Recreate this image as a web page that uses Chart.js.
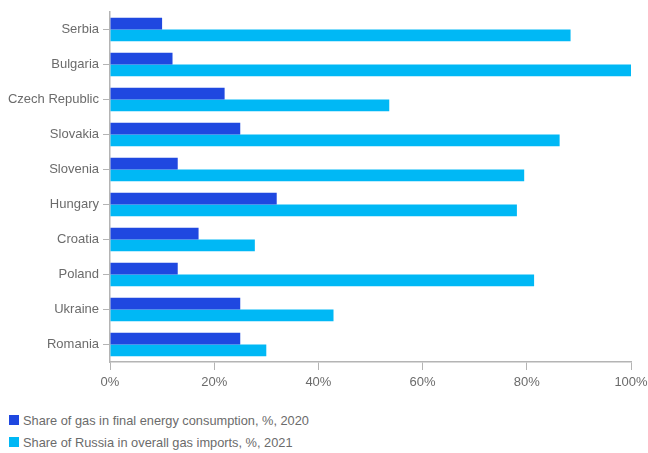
<!DOCTYPE html>
<html>
<head>
<meta charset="utf-8">
<script src="https://cdn.jsdelivr.net/npm/chart.js@4"></script>
<style>
  html, body { margin: 0; padding: 0; background: #fff; }
  #wrap { width: 648px; height: 400px; position: relative; }
  #legend { position: absolute; left: 9px; top: 409px; font-family: 'Liberation Sans', Arial, sans-serif; font-size: 12.8px; color: #6b6b6b; }
  .item { display: flex; align-items: center; height: 22px; }
  .box { width: 10px; height: 10px; margin-right: 4px; }
</style>
</head>
<body>
<div id="wrap"><canvas id="gasChart"></canvas></div>
<div id="legend"></div>
<script>
const countries = ["Serbia", "Bulgaria", "Czech Republic", "Slovakia", "Slovenia", "Hungary", "Croatia", "Poland", "Ukraine", "Romania"];
const gasShare2020 = [10, 12, 22, 25, 13, 32, 17, 13, 25, 25];
const russiaShare2021 = [88.4, 100, 53.6, 86.3, 79.5, 78.1, 27.8, 81.4, 42.9, 30];
const xTicks = [0, 20, 40, 60, 80, 100];

const axisGrey = "#b4b4b4";
const textGrey = "#6b6b6b";

Chart.defaults.font.family = "'Liberation Sans', Arial, sans-serif";
Chart.defaults.color = textGrey;

const gasChart = new Chart(
  document.getElementById("gasChart"),
  {
    type: "bar",
    data: {
      labels: countries,
      datasets: [{
        label: "Share of gas in final energy consumption, %, 2020",
        data: gasShare2020,
        backgroundColor: "#1f48e0"
      }, {
        label: "Share of Russia in overall gas imports, %, 2021",
        data: russiaShare2021,
        backgroundColor: "#00b8f5"
      }]
    },
    options: {
      indexAxis: "y",
      responsive: true,
      maintainAspectRatio: false,
      animation: false,
      layout: { padding: { top: 12, right: 17, left: 4, bottom: 3 } },
      datasets: { bar: { barPercentage: 1, categoryPercentage: 0.665 } },
      scales: {
        x: {
          min: 0,
          max: 100,
          afterBuildTicks: (scale) => { scale.ticks = xTicks.map(v => ({ value: v })); },
          ticks: { callback: (v) => v + "%", font: { size: 13 }, padding: 5 },
          grid: { drawOnChartArea: false, color: axisGrey, tickLength: 8 },
          border: { color: axisGrey, width: 1.5 },
          afterFit: (scale) => { scale.height = 35; scale.paddingRight = 0; }
        },
        y: {
          ticks: { font: { size: 13 }, padding: 4 },
          grid: { drawOnChartArea: false, offset: false, color: axisGrey, tickLength: 7 },
          border: { color: axisGrey, width: 1.5 },
          afterFit: (scale) => { scale.width = 106; }
        }
      },
      plugins: {
        legend: { display: false },
        tooltip: { enabled: false }
      }
    }
  }
);

// LEGEND
const legendEl = document.getElementById("legend");
gasChart.data.datasets.forEach((ds) => {
  const row = document.createElement("div");
  row.className = "item";
  const box = document.createElement("span");
  box.className = "box";
  box.style.background = ds.backgroundColor;
  row.appendChild(box);
  row.appendChild(document.createTextNode(ds.label));
  legendEl.appendChild(row);
});
</script>
</body>
</html>
